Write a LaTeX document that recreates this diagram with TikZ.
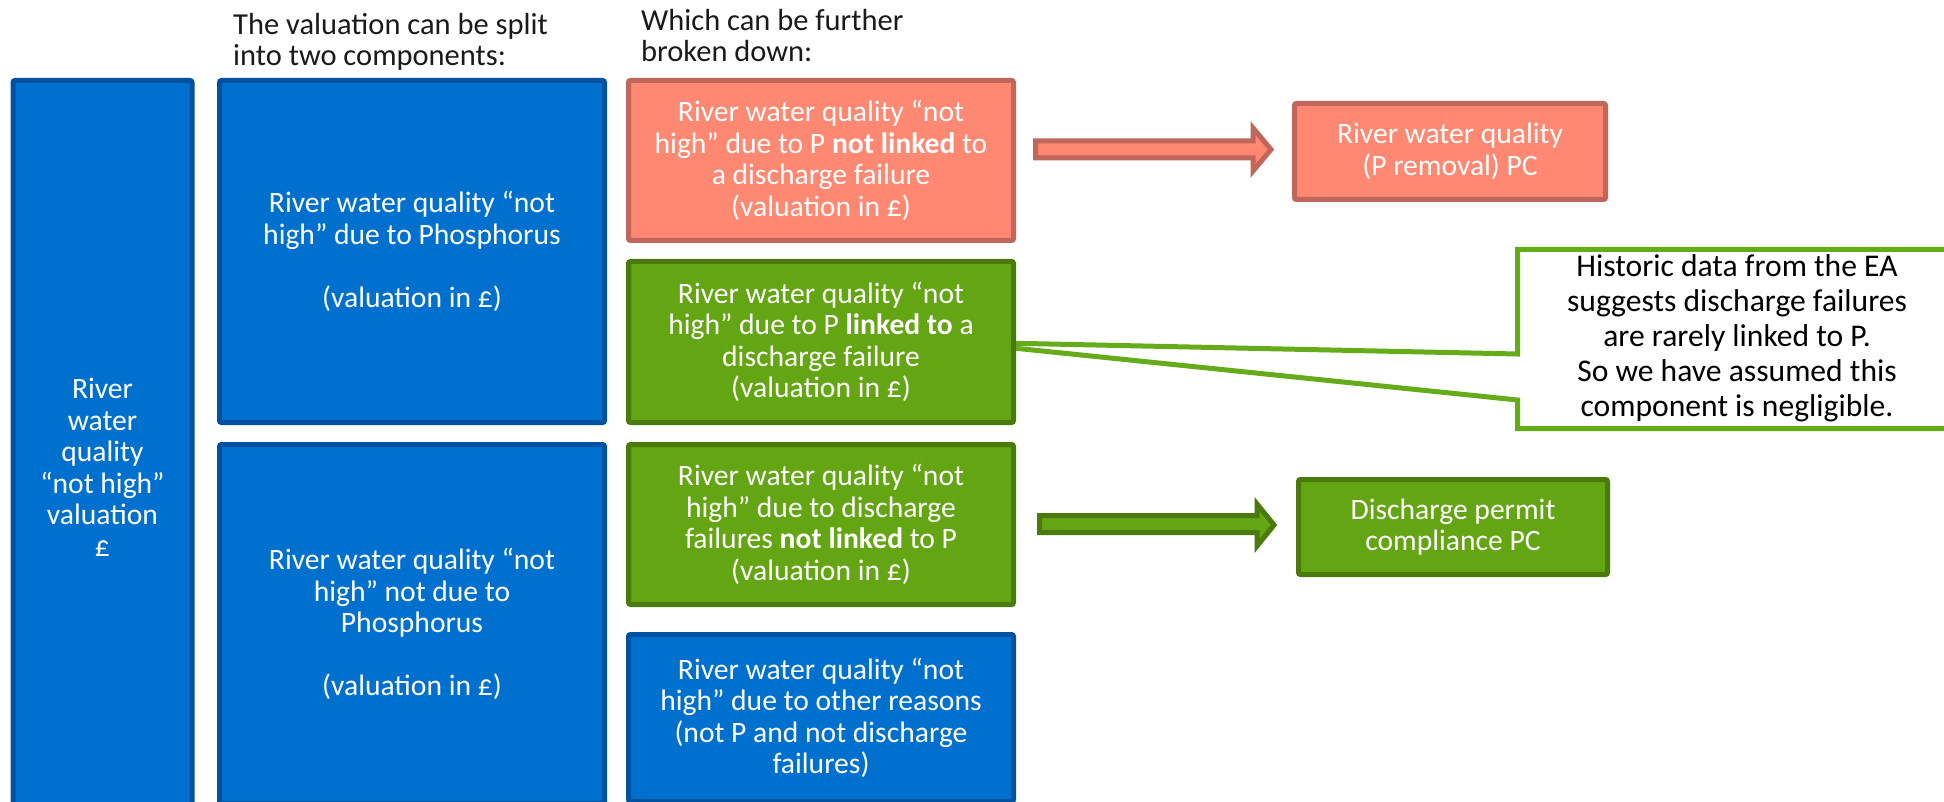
\documentclass[tikz,border=0pt]{standalone}
\usepackage{fontspec}
\setmainfont{Carlito}
\definecolor{wblue}{HTML}{0070CF}
\definecolor{wblueline}{HTML}{0052A0}
\definecolor{wsalmon}{HTML}{FF8872}
\definecolor{wsalmonline}{HTML}{C0665A}
\definecolor{wgreen}{HTML}{63A512}
\definecolor{wgreenline}{HTML}{4A7A0C}
\definecolor{wcallout}{HTML}{66AC1A}
\definecolor{headtext}{HTML}{1A1A1A}
\newcommand\boxfont{\fontsize{29.6}{31.5}\selectfont}
\newcommand\notefont{\fontsize{31.6}{35}\selectfont}
\begin{document}
\begin{tikzpicture}[x=1pt,y=-1pt,
  box/.style={draw, line width=5pt, rounded corners=2pt, text=white,
    align=center, inner sep=0pt, font=\boxfont},
  bluebox/.style={box, fill=wblue, draw=wblueline},
  salmonbox/.style={box, fill=wsalmon, draw=wsalmonline},
  greenbox/.style={box, fill=wgreen, draw=wgreenline},
  header/.style={anchor=north west, align=left, inner sep=0pt,
    text=headtext, font=\fontsize{30.5}{31}\selectfont},
  blockarrow/.style={line width=5pt, line join=miter},
  callout/.style={draw=wcallout, fill=white, line width=5pt, line join=miter},
]
\useasboundingbox (0,0) rectangle (1944,802);

% column headings
\node[header] (h1) at (233,13) {The valuation can be split\\into two components:};
\node[header] (h2) at (641,9) {Which can be further\\broken down:};

% total valuation
\node[bluebox, minimum width=179pt, minimum height=774pt] (total) at (102.5,467.5)
  {River\\water\\quality\\“not high”\\valuation\\£};

% two components
\node[bluebox, minimum width=385pt, minimum height=342pt] (phos) at (412,251.5)
  {River water quality “not\\high” due to Phosphorus\\[31.5pt](valuation in £)};
\node[bluebox, minimum width=385pt, minimum height=359pt] (nophos) at (412,624)
  {River water quality “not\\high” not due to\\Phosphorus\\[31.5pt](valuation in £)};

% breakdown
\node[salmonbox, minimum width=385pt, minimum height=160pt] (pnot) at (821,160.5)
  {River water quality “not\\high” due to P \textbf{not linked} to\\a discharge failure\\(valuation in £)};

\node[salmonbox, minimum width=311pt, minimum height=96pt] (premoval) at (1450,151.5)
  {River water quality\\(P removal) PC};

\node[greenbox, minimum width=309pt, minimum height=95pt] (permit) at (1453,527)
  {Discharge permit\\compliance PC};

% block arrows to the performance commitments
\draw[blockarrow, fill=wsalmon, draw=wsalmonline]
  (1035.5,141) -- (1253,141) -- (1253,128) -- (1271,149.5) -- (1253,171)
  -- (1253,158) -- (1035.5,158) -- cycle;
\draw[blockarrow, fill=wgreen, draw=wgreenline]
  (1039.5,515.5) -- (1257,515.5) -- (1257,504) -- (1274,525) -- (1257,546)
  -- (1257,532.5) -- (1039.5,532.5) -- cycle;

% note on the linked component
\coordinate (tip) at (955,342);
\draw[callout] (1517.5,249.5) -- (1970,249.5) -- (1970,428.5) -- (1517.5,428.5)
  -- (1517.5,400) -- (tip) -- (1517.5,354) -- cycle;
\node[align=center, inner sep=0pt, font=\notefont, text=black] (note) at (1737,338)
  {Historic data from the EA\\suggests discharge failures\\are rarely linked to P.\\So we have assumed this\\component is negligible.};

\node[greenbox, minimum width=385pt, minimum height=161pt] (plinked) at (821,342)
  {River water quality “not\\high” due to P \textbf{linked to} a\\discharge failure\\(valuation in £)};
\node[greenbox, minimum width=385pt, minimum height=160pt] (dnot) at (821,524.5)
  {River water quality “not\\high” due to discharge\\failures \textbf{not linked} to P\\(valuation in £)};
\node[bluebox, minimum width=385pt, minimum height=167pt] (other) at (821,718)
  {River water quality “not\\high” due to other reasons\\(not P and not discharge\\failures)};
\end{tikzpicture}
\end{document}
